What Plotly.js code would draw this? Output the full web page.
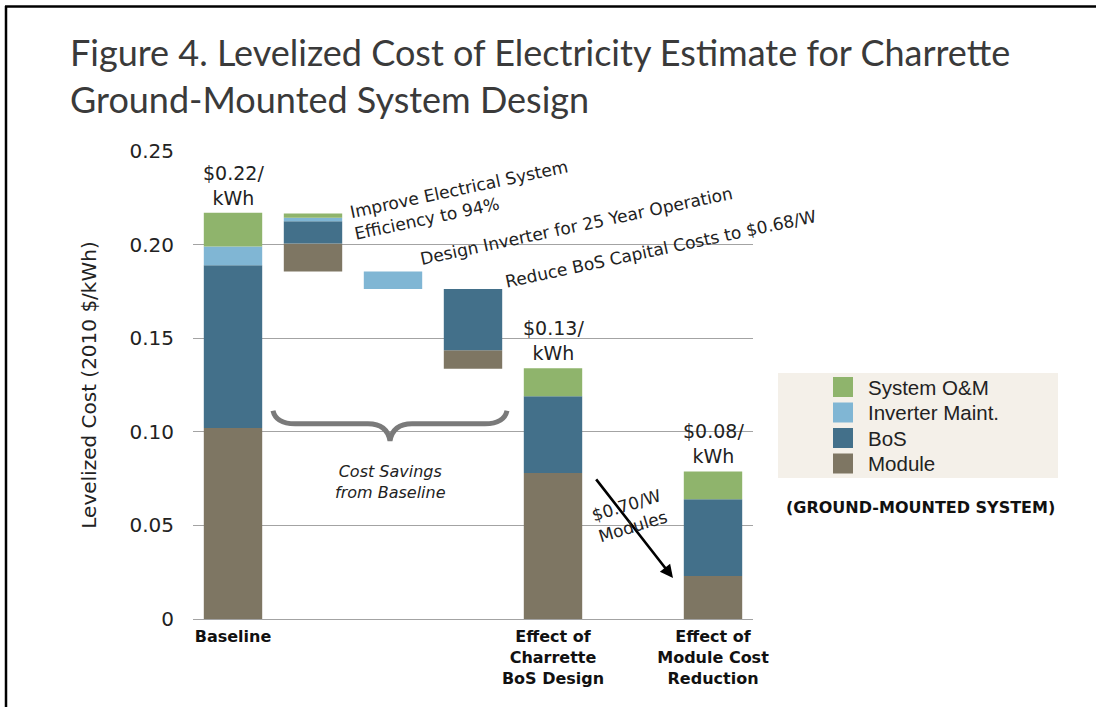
<!DOCTYPE html>
<html>
<head>
<meta charset="utf-8">
<script src="https://cdn.plot.ly/plotly-3.0.1.min.js"></script>
<style>
  html, body { margin: 0; padding: 0; background: #ffffff; }
  #chart { width: 1096px; height: 707px; }
</style>
</head>
<body>
<div id="chart"></div>
<script>
// Category slots along the x axis (slot 5 is left empty as a spacer)
const slots = [0, 1, 2, 3, 4, 6];
const tickSlots = [0, 4, 6];
const tickLabels = ['Baseline', 'Effect of<br>Charrette<br>BoS Design', 'Effect of<br>Module Cost<br>Reduction'];

// Levelized cost components, 2010 $/kWh
const floorLevel = [0, 0.1856, 0.1763, 0.1337, 0, 0];   // bottom of the floating waterfall steps
const moduleCost = [0.102, 0.015, 0, 0.0098, 0.078, 0.023];
const bosCost = [0.087, 0.0119, 0, 0.0328, 0.041, 0.041];
const inverterCost = [0.010, 0.0018, 0.0093, 0, 0, 0];
const omCost = [0.018, 0.0023, 0, 0, 0.015, 0.0148];

const seriesNames = ['Module', 'BoS', 'Inverter Maint.', 'System O&M'];
const seriesColors = ['#7e7663', '#43708a', '#80b6d4', '#8fb46c'];

const stepTexts = [
  'Improve Electrical System<br>Efficiency to 94%',
  'Design Inverter for 25 Year Operation',
  'Reduce BoS Capital Costs to $0.68/W'
];
const totalIdx = [0, 4, 5];  // bars that carry a total label
const braceText = '<i>Cost Savings<br>from Baseline</i>';
const moduleStepText = '$0.70/W<br>Modules';
const footnote = '(GROUND-MOUNTED SYSTEM)';

// Build stacked segments with explicit bases
const seriesVals = [moduleCost, bosCost, inverterCost, omCost];
const running = floorLevel.slice();
const traces = seriesVals.map((vals, k) => {
  const base = running.slice();
  vals.forEach((v, i) => { running[i] += v; });
  return {
    type: 'bar', name: seriesNames[k], x: slots, y: vals, base: base,
    width: 0.73, marker: { color: seriesColors[k], line: { width: 0 } },
    showlegend: false, hoverinfo: 'skip'
  };
});
const totals = running;

// Pixel helpers for the plot area (x axis slot width 80px, y: 1870px per $/kWh)
const L = 193, T = 151, W = 560, H = 468;
const px = p => (p - L) / W;          // paper x
const py = p => (T + H - p) / H;      // paper y
const dx = p => (p - 233) / 80;       // data x
const dy = p => (T + H - p) / 1870;   // data y

const annotations = [];
const txtFont = { family: 'DejaVu Sans', size: 17, color: '#222222' };

// Total labels above the full bars
totalIdx.forEach(i => {
  annotations.push({
    x: slots[i], y: totals[i], xref: 'x', yref: 'y',
    text: '$' + totals[i].toFixed(2) + '/<br>kWh', showarrow: false,
    xanchor: 'center', yanchor: 'bottom', yshift: 2,
    font: { family: 'DejaVu Sans', size: 19, color: '#222222' }
  });
});

// Rotated step descriptions
const stepPos = [[461, 200], [576, 226], [660, 249]];
stepTexts.forEach((t, k) => {
  annotations.push({
    x: dx(stepPos[k][0]), y: dy(stepPos[k][1]), xref: 'x', yref: 'y',
    text: t, showarrow: false, textangle: -12, align: 'left',
    xanchor: 'center', yanchor: 'middle', font: txtFont
  });
});

// Brace caption
annotations.push({
  x: dx(390), y: dy(482), xref: 'x', yref: 'y', text: braceText, showarrow: false,
  xanchor: 'center', yanchor: 'middle',
  font: { family: 'DejaVu Sans', size: 16, color: '#222222' }
});

// Module price arrow and label
annotations.push({
  x: dx(673), y: dy(578), ax: dx(595), ay: dy(478), xref: 'x', yref: 'y', axref: 'x', ayref: 'y',
  text: '', showarrow: true, arrowhead: 2, arrowsize: 1, arrowwidth: 2.6, arrowcolor: '#000000'
});
annotations.push({
  x: dx(629), y: dy(516), xref: 'x', yref: 'y', text: moduleStepText, showarrow: false,
  textangle: -17, xanchor: 'center', yanchor: 'middle', font: txtFont
});

// Legend panel
const shapes = [];
shapes.push({
  type: 'rect', xref: 'paper', yref: 'paper',
  x0: px(778), x1: px(1058), y0: py(478), y1: py(373),
  fillcolor: '#f4f0e9', line: { width: 0 }, layer: 'below'
});
const legendOrder = [3, 2, 1, 0];
const rowY = [387, 412.5, 438, 463.5];
legendOrder.forEach((k, r) => {
  shapes.push({
    type: 'rect', xref: 'paper', yref: 'paper',
    x0: px(833), x1: px(853), y0: py(rowY[r] + 10), y1: py(rowY[r] - 10),
    fillcolor: seriesColors[k], line: { width: 0 }
  });
  annotations.push({
    x: px(866), y: py(rowY[r]), xref: 'paper', yref: 'paper', text: seriesNames[k],
    showarrow: false, xanchor: 'left', yanchor: 'middle',
    font: { family: 'Liberation Sans', size: 20.5, color: '#222222' }
  });
});
annotations.push({
  x: px(920), y: py(507), xref: 'paper', yref: 'paper', text: footnote, showarrow: false,
  xanchor: 'center', yanchor: 'middle',
  font: { family: 'DejaVu Sans', size: 16, weight: 'bold', color: '#111111' }
});

// Curly brace under the savings steps
const bTop = dy(411), bFlat = dy(424), bTip = dy(441);
shapes.push({
  type: 'path', xref: 'x', yref: 'y',
  path: `M ${dx(273)},${bTop} Q ${dx(276)},${bFlat} ${dx(295)},${bFlat} L ${dx(368)},${bFlat} ` +
        `Q ${dx(387)},${bFlat} ${dx(390)},${bTip} Q ${dx(393)},${bFlat} ${dx(412)},${bFlat} ` +
        `L ${dx(485)},${bFlat} Q ${dx(504)},${bFlat} ${dx(507)},${bTop}`,
  line: { color: '#7a7a7a', width: 5 }
});

// Figure frame (left and top rules)
shapes.push({ type: 'line', xref: 'paper', yref: 'paper', x0: px(6), x1: px(6), y0: py(6), y1: py(707), line: { color: '#000', width: 2.5 } });
shapes.push({ type: 'line', xref: 'paper', yref: 'paper', x0: px(5), x1: px(1096), y0: py(6.5), y1: py(6.5), line: { color: '#000', width: 2.5 } });

const layout = {
  width: 1096, height: 707,
  margin: { l: L, r: 1096 - L - W, t: T, b: 707 - T - H, pad: 0 },
  paper_bgcolor: '#ffffff', plot_bgcolor: '#ffffff',
  barmode: 'overlay', showlegend: false,
  title: {
    text: 'Figure 4. Levelized Cost of Electricity Estimate for Charrette<br>Ground-Mounted System Design',
    xref: 'container', yref: 'container', x: 70 / 1096, xanchor: 'left',
    y: 1 - 66 / 707, yanchor: 'top',
    font: { family: 'Lato', size: 36, color: '#3a3a3a' }
  },
  xaxis: {
    range: [-0.5, 6.5], tickmode: 'array', tickvals: tickSlots, ticktext: tickLabels,
    showgrid: false, zeroline: false, showline: false, ticks: '', ticklabelstandoff: 6,
    tickfont: { family: 'DejaVu Sans', size: 16, weight: 'bold', color: '#111111' },
    fixedrange: true
  },
  yaxis: {
    range: [0, 0.25], tickmode: 'array', tickvals: [0, 0.05, 0.10, 0.15, 0.20, 0.25],
    ticktext: ['0', '0.05', '0.10', '0.15', '0.20', '0.25'],
    showgrid: true, gridcolor: '#a3a3a3', gridwidth: 1,
    zeroline: true, zerolinecolor: '#a3a3a3', zerolinewidth: 1,
    showline: false, ticks: '', ticklabelstandoff: 18,
    tickfont: { family: 'DejaVu Sans', size: 20, color: '#222222' },
    title: { text: 'Levelized Cost (2010 $/kWh)', standoff: 27,
             font: { family: 'DejaVu Sans', size: 20, color: '#222222' } },
    fixedrange: true
  },
  annotations: annotations,
  shapes: shapes
};

Plotly.newPlot('chart', traces, layout, { staticPlot: true, displayModeBar: false });
</script>
</body>
</html>
